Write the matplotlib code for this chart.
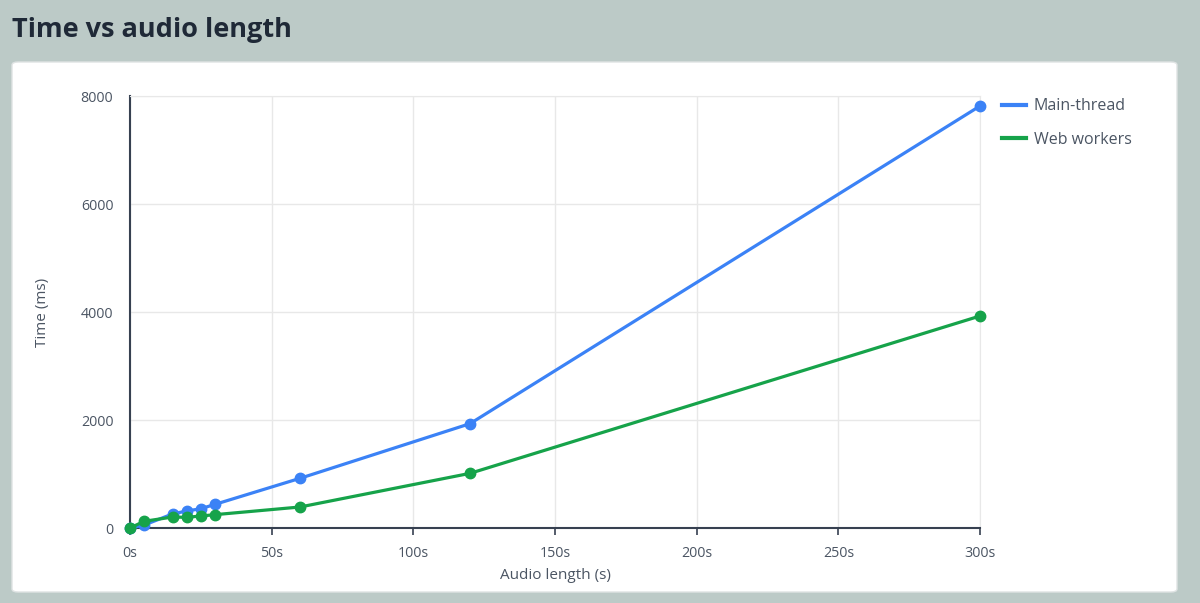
import matplotlib.pyplot as plt
from matplotlib.patches import FancyBboxPatch

# Data
audio_len = [0, 5, 15, 20, 25, 30, 60, 120, 300]
main_thread = [0, 55, 260, 315, 357, 438, 920, 1932, 7815]
web_workers = [0, 124, 203, 198, 222, 247, 389, 1012, 3926]
x_ticks = [0, 50, 100, 150, 200, 250, 300]
y_ticks = [0, 2000, 4000, 6000, 8000]

BLUE = '#3b82f6'
GREEN = '#16a34a'
AXIS = '#374151'
TEXT = '#4b5563'
GRID = '#e8e8e8'

plt.rcParams['font.family'] = ['Open Sans', 'DejaVu Sans']

W, H = 1200, 603
fig = plt.figure(figsize=(W / 100, H / 100), dpi=100)
fig.patch.set_facecolor('#bccac7')

# white card behind the chart
card = FancyBboxPatch((12 / W, 1 - 592 / H), (1177 - 12) / W, (592 - 62) / H,
                      boxstyle='round,pad=0,rounding_size=0.005',
                      transform=fig.transFigure, facecolor='white',
                      edgecolor='#dfe3e3', linewidth=1.0, zorder=-5)
fig.patches.append(card)

fig.text(12 / W, 1 - 30 / H, 'Time vs audio length', fontsize=19.5,
         fontweight='bold', color='#1f2937', va='center', ha='left')

ax = fig.add_axes([130 / W, 1 - 528 / H, 850 / W, 432 / H])
ax.set_facecolor('none')

ax.plot(audio_len, main_thread, color=BLUE, lw=2.3, marker='o', ms=7.5,
        label='Main-thread', clip_on=False, zorder=3)
ax.plot(audio_len, web_workers, color=GREEN, lw=2.3, marker='o', ms=7.5,
        label='Web workers', clip_on=False, zorder=4)

ax.set_xlim(0, 300)
ax.set_ylim(0, 8000)
ax.set_xticks(x_ticks)
ax.set_xticklabels([f'{t}s' for t in x_ticks])
ax.set_yticks(y_ticks)

ax.grid(True, color=GRID, lw=1)
ax.set_axisbelow(True)
for side in ['top', 'right']:
    ax.spines[side].set_color(GRID)
for side in ['left', 'bottom']:
    ax.spines[side].set_color(AXIS)
    ax.spines[side].set_linewidth(1.5)

ax.tick_params(axis='x', colors=AXIS, length=5, width=1.2, labelsize=10.3,
               labelcolor=TEXT, pad=8)
ax.tick_params(axis='y', length=0, labelsize=10.3, labelcolor=TEXT, pad=12)

ax.set_xlabel('Audio length (s)', fontsize=11, color=TEXT, labelpad=5)
ax.set_ylabel('Time (ms)', fontsize=11, color=TEXT, labelpad=22)

leg = fig.legend(loc='upper left', bbox_to_anchor=(988 / W, 1 - 84 / H),
                 frameon=False, fontsize=11.5, labelcolor=TEXT,
                 handlelength=1.5, handletextpad=0.45, labelspacing=1.1)
for line in leg.get_lines():
    line.set_marker('')
    line.set_linewidth(3)

fig.savefig('out.png', dpi=100, facecolor=fig.get_facecolor())
